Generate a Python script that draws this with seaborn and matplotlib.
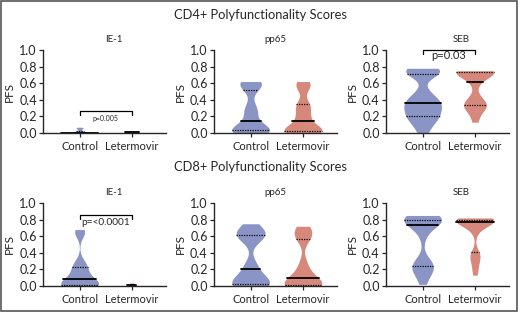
import pandas as pd
import matplotlib.pyplot as plt
import seaborn as sns
from matplotlib.patches import Rectangle

# ============================================================================
# DATA (PFS values)
# ============================================================================

groups = ['Control', 'Letermovir']
antigens = ['IE-1', 'pp65', 'SEB']
cells = ['CD4+', 'CD8+']

cd4_ie1_control = [0.0, 0.0, 0.0, 0.0, 0.0, 0.0, 0.0, 0.0, 0.0, 0.01, 0.01, 0.02, 0.03, 0.05, 0.06, 0.07]
cd4_ie1_letermovir = [0.0, 0.0, 0.0, 0.005, 0.01, 0.01, 0.01, 0.015, 0.02]
cd4_pp65_control = [0.0, 0.0, 0.01, 0.02, 0.03, 0.04, 0.04, 0.05, 0.07, 0.11,
                    0.19, 0.24, 0.29, 0.33, 0.5, 0.57, 0.59, 0.6, 0.61, 0.62]
cd4_pp65_letermovir = [0.0, 0.0, 0.01, 0.02, 0.03, 0.03, 0.04, 0.05, 0.07, 0.11,
                       0.17, 0.2, 0.25, 0.3, 0.35, 0.36, 0.52, 0.57, 0.6, 0.62]
cd4_seb_control = [0.0, 0.08, 0.14, 0.19, 0.2, 0.21, 0.27, 0.3, 0.33, 0.35,
                   0.37, 0.4, 0.44, 0.5, 0.71, 0.73, 0.74, 0.75, 0.77, 0.78]
cd4_seb_letermovir = [0.13, 0.22, 0.28, 0.31, 0.33, 0.34, 0.36, 0.4, 0.45, 0.6,
                      0.64, 0.7, 0.72, 0.73, 0.74, 0.74, 0.74, 0.75, 0.75, 0.75]

cd8_ie1_control = [0.0, 0.0, 0.0, 0.01, 0.01, 0.01, 0.02, 0.03, 0.05, 0.07,
                   0.09, 0.12, 0.16, 0.2, 0.22, 0.26, 0.3, 0.62, 0.66, 0.68]
cd8_ie1_letermovir = [0.0, 0.0, 0.005, 0.01, 0.01, 0.01, 0.02, 0.03, 0.035]
cd8_pp65_control = [0.0, 0.0, 0.01, 0.02, 0.03, 0.03, 0.05, 0.08, 0.12, 0.17,
                    0.23, 0.28, 0.55, 0.6, 0.62, 0.62, 0.63, 0.65, 0.7, 0.75]
cd8_pp65_letermovir = [0.0, 0.0, 0.0, 0.01, 0.01, 0.01, 0.02, 0.04, 0.06, 0.08,
                       0.12, 0.16, 0.22, 0.3, 0.56, 0.58, 0.63, 0.66, 0.68, 0.72]
cd8_seb_control = [0.02, 0.12, 0.18, 0.21, 0.23, 0.24, 0.28, 0.32, 0.6, 0.7,
                   0.76, 0.78, 0.79, 0.8, 0.8, 0.8, 0.81, 0.82, 0.84, 0.85]
cd8_seb_letermovir = [0.13, 0.2, 0.27, 0.32, 0.36, 0.39, 0.41, 0.64, 0.7, 0.74,
                      0.76, 0.77, 0.78, 0.78, 0.79, 0.79, 0.79, 0.8, 0.8, 0.8,
                      0.8, 0.81, 0.81, 0.82]

pvalues = {('CD4+', 'IE-1'): 'p=0.005',
           ('CD4+', 'SEB'): 'p=0.03',
           ('CD8+', 'IE-1'): 'p=<0.0001'}

series = {
    ('CD4+', 'IE-1', 'Control'): cd4_ie1_control,
    ('CD4+', 'IE-1', 'Letermovir'): cd4_ie1_letermovir,
    ('CD4+', 'pp65', 'Control'): cd4_pp65_control,
    ('CD4+', 'pp65', 'Letermovir'): cd4_pp65_letermovir,
    ('CD4+', 'SEB', 'Control'): cd4_seb_control,
    ('CD4+', 'SEB', 'Letermovir'): cd4_seb_letermovir,
    ('CD8+', 'IE-1', 'Control'): cd8_ie1_control,
    ('CD8+', 'IE-1', 'Letermovir'): cd8_ie1_letermovir,
    ('CD8+', 'pp65', 'Control'): cd8_pp65_control,
    ('CD8+', 'pp65', 'Letermovir'): cd8_pp65_letermovir,
    ('CD8+', 'SEB', 'Control'): cd8_seb_control,
    ('CD8+', 'SEB', 'Letermovir'): cd8_seb_letermovir,
}
rows = [(c, a, g, v) for (c, a, g), vals in series.items() for v in vals]
df = pd.DataFrame(rows, columns=['cell', 'antigen', 'group', 'pfs'])

# ============================================================================
# STYLE
# ============================================================================

sns.set_style('ticks')
plt.rcParams['font.family'] = ['Lato', 'DejaVu Sans']
palette = {'Control': '#8b95c5', 'Letermovir': '#d6897b'}
# narrow violins for the near-zero IE-1 Letermovir groups
widths = {('CD4+', 'IE-1', 'Letermovir'): 0.25, ('CD8+', 'IE-1', 'Letermovir'): 0.18}
# bracket (line height, text y, fontsize)
brackets = {('CD4+', 'IE-1'): (0.265, 0.17, 5),
            ('CD4+', 'SEB'): (1.0, 0.93, 8),
            ('CD8+', 'IE-1'): (0.855, 0.77, 7.3)}
title_x = {'IE-1': 0.58, 'pp65': 0.5, 'SEB': 0.61}

fig = plt.figure(figsize=(5.2, 3.12), dpi=100)
fig.patches.append(Rectangle((0.001, 0.003), 0.993, 0.995, transform=fig.transFigure,
                             fill=False, edgecolor='#555555', linewidth=1.2))

lefts = [43 / 520, 214 / 520, 386 / 520]
bottoms = [1 - 133 / 312, 1 - 286 / 312]
title_y = [1 - 15 / 312, 1 - 167 / 312]

for r, cell in enumerate(cells):
    fig.text(0.5, title_y[r], f'{cell} Polyfunctionality Scores', ha='center',
             va='center', fontsize=9.3)
    for c, antigen in enumerate(antigens):
        ax = fig.add_axes([lefts[c], bottoms[r], 123 / 520, 83 / 312])
        for g in groups:
            sub = df[(df.cell == cell) & (df.antigen == antigen) & (df.group == g)]
            n0 = len(ax.lines)
            sns.violinplot(data=sub, x='group', y='pfs', order=groups, ax=ax,
                           color=palette[g], saturation=1, linewidth=0, cut=0,
                           bw_adjust=0.55, inner='quart',
                           width=widths.get((cell, antigen, g), 0.72),
                           inner_kws=dict(color='black', linewidth=0.9))
            for i, ln in enumerate(ax.lines[n0:]):
                if i % 3 == 1:
                    ln.set_linestyle('-')
                    ln.set_linewidth(1.3)
                else:
                    ln.set_dashes((1, 1))
        ax.set_xlim(-0.7, 1.65)
        ax.set_ylim(0, 1.0)
        ax.set_yticks([0, 0.2, 0.4, 0.6, 0.8, 1.0])
        ax.set_yticklabels(['0.0', '0.2', '0.4', '0.6', '0.8', '1.0'])
        ax.tick_params(axis='y', labelsize=9, length=3, width=0.9, pad=1.5)
        ax.tick_params(axis='x', labelsize=8, length=3, width=0.9, pad=3)
        ax.set_xlabel('')
        ax.set_ylabel('PFS', fontsize=8.5, labelpad=3)
        ax.set_title(antigen, fontsize=7, x=title_x[antigen], pad=6)
        for s in ['left', 'bottom']:
            ax.spines[s].set_linewidth(1)
        sns.despine(ax=ax)
        if (cell, antigen) in pvalues:
            yb, yt, fs = brackets[(cell, antigen)]
            ax.plot([0, 0, 1, 1], [yb - 0.05, yb, yb, yb - 0.05], color='black',
                    linewidth=0.9, clip_on=False)
            ax.text(0.5, yt, pvalues[(cell, antigen)], ha='center', va='center',
                    fontsize=fs)

plt.savefig('out.png', dpi=100)
